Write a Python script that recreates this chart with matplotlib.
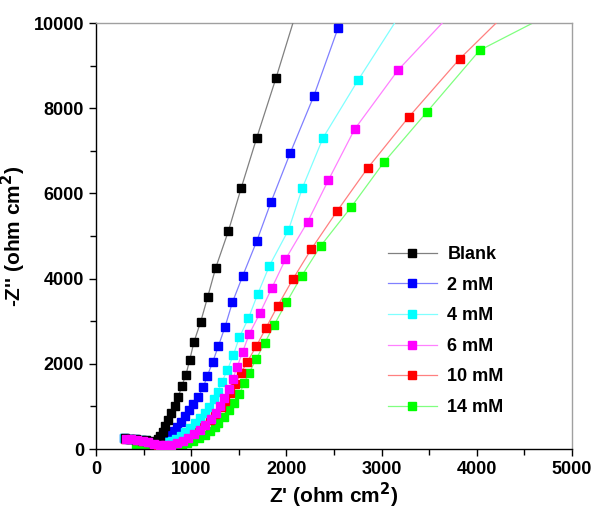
import matplotlib.pyplot as plt

plt.rcParams['font.family'] = ['Liberation Sans', 'DejaVu Sans']
plt.rcParams['font.weight'] = 'bold'

# Nyquist data, Z' and -Z'' in ohm cm2
blank_x = [300, 360, 420, 480, 530, 570, 605, 630, 652, 673, 700, 728, 758, 790, 830, 865, 903, 945, 985, 1028,
           1100, 1174, 1258, 1391, 1524, 1689, 1892, 2110]
blank_y = [250, 243, 235, 222, 205, 185, 165, 175, 235, 313, 410, 540, 690, 845, 1013, 1225, 1490, 1745, 2095, 2505,
           2989, 3576, 4257, 5118, 6119, 7309, 8717, 10300]

mm2_x = [290, 350, 410, 470, 530, 585, 630, 670, 700, 730, 760, 790, 820, 848, 890, 935, 980, 1022, 1075, 1127,
         1169, 1224, 1286, 1356, 1433, 1542, 1689, 1840, 2039, 2288, 2544]
mm2_y = [250, 242, 232, 215, 195, 170, 150, 150, 175, 215, 270, 335, 420, 523, 640, 775, 915, 1056, 1228, 1448,
         1714, 2032, 2418, 2872, 3443, 4069, 4883, 5806, 6941, 8287, 9891]

mm4_x = [290, 340, 400, 460, 520, 580, 635, 680, 720, 760, 800, 845, 890, 940, 990, 1040, 1092, 1145, 1190, 1239,
         1278, 1324, 1380, 1443, 1506, 1601, 1699, 1822, 2022, 2169, 2386, 2754, 3180]
mm4_y = [250, 245, 235, 220, 200, 175, 150, 135, 135, 155, 190, 240, 300, 390, 490, 600, 720, 838, 993, 1167,
         1345, 1580, 1854, 2207, 2622, 3067, 3639, 4304, 5141, 6135, 7309, 8662, 10150]

mm6_x = [310, 370, 430, 490, 550, 610, 670, 730, 790, 850, 910, 970, 1030, 1090, 1150, 1208, 1261, 1303, 1345,
         1394, 1436, 1484, 1541, 1610, 1721, 1847, 1990, 2222, 2442, 2716, 3171, 3700]
mm6_y = [245, 232, 210, 185, 155, 120, 95, 90, 105, 140, 190, 260, 345, 450, 570, 697, 838, 1009, 1190,
         1401, 1636, 1932, 2284, 2700, 3185, 3779, 4452, 5329, 6315, 7504, 8889, 10150]

mm10_x = [305, 365, 425, 485, 545, 595, 655, 715, 775, 835, 895, 955, 1015, 1075, 1135, 1195, 1253, 1310, 1358,
          1408, 1460, 1520, 1590, 1685, 1787, 1910, 2067, 2260, 2533, 2852, 3283, 3819, 4340]
mm10_y = [245, 235, 215, 190, 160, 130, 100, 85, 110, 155, 215, 285, 365, 460, 570, 690, 822, 979, 1134,
          1307, 1526, 1777, 2049, 2418, 2848, 3365, 3983, 4687, 5587, 6589, 7786, 9155, 10300]

mm14_x = [420, 480, 540, 600, 660, 720, 780, 840, 900, 960, 1020, 1080, 1140, 1200, 1245, 1285, 1345, 1400,
          1453, 1505, 1555, 1610, 1681, 1770, 1871, 2001, 2162, 2362, 2681, 3024, 3476, 4030, 4850]
mm14_y = [75, 55, 42, 35, 32, 35, 45, 65, 95, 135, 185, 250, 330, 420, 510, 603, 758, 915,
          1073, 1284, 1542, 1791, 2106, 2481, 2911, 3443, 4069, 4773, 5681, 6730, 7911, 9359, 10300]

labels = ["Blank", "2 mM", "4 mM", "6 mM", "10 mM", "14 mM"]
series = [(blank_x, blank_y), (mm2_x, mm2_y), (mm4_x, mm4_y), (mm6_x, mm6_y), (mm10_x, mm10_y), (mm14_x, mm14_y)]
marker_colors = ["#000000", "#0000ff", "#00ffff", "#ff00ff", "#ff0000", "#00ff00"]
line_colors = ["#808080", "#8080ff", "#80ffff", "#ff80ff", "#ff8080", "#80ff80"]
zorders = [4.5, 3.5, 4, 5, 3, 2]

fig = plt.figure(figsize=(5.94, 5.13), dpi=100)
ax = fig.add_axes([96 / 594, 1 - 449 / 513, 476 / 594, 426 / 513])

for (x, y), lab, mc, lc, z in zip(series, labels, marker_colors, line_colors, zorders):
    ax.plot(x, y, color=lc, lw=0.9, marker='s', markersize=5.3,
            markerfacecolor=mc, markeredgecolor=mc, label=lab, zorder=z)

ax.set_xlim(0, 5000)
ax.set_ylim(0, 10000)
ax.set_xticks(range(0, 5001, 1000))
ax.set_xticks(range(500, 5000, 1000), minor=True)
ax.set_yticks(range(0, 10001, 2000))
ax.set_yticks(range(1000, 10000, 2000), minor=True)
ax.tick_params(which='both', direction='out', labelsize=13, width=1, top=False, right=False)
ax.tick_params(which='major', length=5)
ax.tick_params(which='minor', length=4)

for s in ['left', 'bottom']:
    ax.spines[s].set_color('black')
    ax.spines[s].set_linewidth(1)
for s in ['top', 'right']:
    ax.spines[s].set_color('#a0a0a0')
    ax.spines[s].set_linewidth(1)

ax.set_xlabel("Z' (ohm cm$^\\mathbf{2}$)", fontsize=15, fontweight='bold', labelpad=2)
ax.set_ylabel("-Z'' (ohm cm$^\\mathbf{2}$)", fontsize=15, fontweight='bold', labelpad=4)

ax.legend(loc='upper left', bbox_to_anchor=(0.613, 0.476), frameon=False, fontsize=13,
          handlelength=2.7, handletextpad=0.6, labelspacing=0.75, borderpad=0, borderaxespad=0,
          numpoints=1)

plt.savefig("out.png", dpi=100)
